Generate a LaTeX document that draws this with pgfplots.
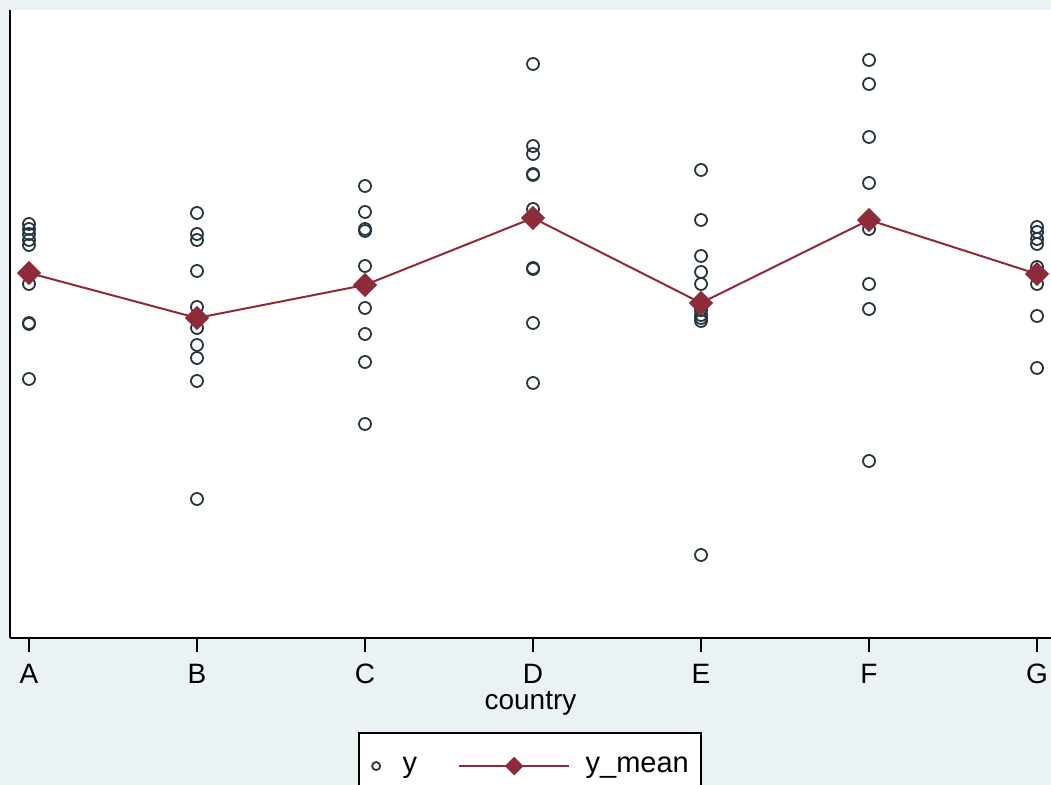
\documentclass[border=0pt]{standalone}
\usepackage{fontspec}
\setmainfont{Liberation Sans}
\usepackage{pgfplots}
\pgfplotsset{compat=1.18}
\definecolor{bgout}{HTML}{EAF2F3}
\definecolor{ptcol}{HTML}{26363F}
\definecolor{meancol}{HTML}{8E2B3A}

% legend samples: a small single marker, and a long line with its marker in the middle
\pgfplotsset{
  dot legend/.style={
    legend image code/.code={
      \path[draw=none, fill=none] (-4.5pt,0pt) rectangle (11.25pt,0.1pt);
      \path[##1, mark size=2pt] plot coordinates {(0pt,0pt)};
    }
  },
  longline legend/.style={
    legend image code/.code={
      \path[draw=none, fill=none] (0pt,0pt) rectangle (61.25pt,0.1pt);
      \draw[##1, mark=none] (0pt,0pt) -- (55pt,0pt);
      \path[##1, mark size=2.8pt] plot coordinates {(27.5pt,0pt)};
    }
  }
}

% individual observations per country
\pgfplotstableread{
x y
0 414
0 409
0 404
0 398
0 393
0 354
0 315
0 314
0 259
1 425
1 404
1 398
1 367
1 331
1 310
1 293
1 280
1 257
1 139
2 452
2 426
2 409
2 407
2 372
2 330
2 304
2 276
2 214
3 574
3 492
3 484
3 464
3 463
3 429
3 370
3 369
3 315
3 255
4 468
4 418
4 382
4 366
4 354
4 328
4 323
4 320
4 317
4 83
5 578
5 554
5 501
5 455
5 409
5 354
5 329
5 177
6 411
6 406
6 399
6 394
6 371
6 362
6 354
6 322
6 270
}\obs

% country means
\pgfplotstableread{
x y
0 365
1 320
2 353
3 420
4 335
5 418
6 364
}\means

\begin{document}
\begin{tikzpicture}
\useasboundingbox (0pt,0pt) rectangle (525.5pt,392.5pt);
\clip (0pt,0pt) rectangle (525.5pt,392.5pt);
\fill[bgout] (0pt,0pt) rectangle (525.5pt,392.5pt);
\begin{axis}[
  at={(5pt,73.5pt)}, anchor=south west,
  scale only axis, width=520.5pt, height=314pt,
  xmin=-0.113, xmax=6.083, ymin=0, ymax=628,
  axis x line*=bottom, axis y line*=left,
  axis line style={-, line width=0.75pt, black},
  axis background/.style={fill=white},
  xtick={0,...,6}, xticklabels={A,B,C,D,E,F,G},
  ytick=\empty,
  tick align=outside, major tick length=7pt,
  tick style={black, line width=0.6pt},
  xticklabel style={yshift=-2.5pt},
  font=\fontsize{14}{17}\selectfont,
  xlabel={country},
  xlabel style={yshift=3pt},
  legend columns=2,
  legend style={at={(0.4995,-0.1497)}, anchor=north,
    draw=black, line width=0.75pt, fill=white,
    inner xsep=4pt, inner ysep=10pt,
    font=\fontsize{14.5}{17}\selectfont,
    /tikz/every even column/.append style={column sep=18.5pt}},
]
\addplot[only marks, mark=o, mark size=3pt, ptcol, line width=0.9pt, dot legend] table {\obs};
\addlegendentry{y}
\addplot[meancol, line width=1pt, mark=square*, mark size=3.8pt,
  mark options={rotate=45, fill=meancol}, longline legend] table {\means};
\addlegendentry{y\_mean}
\end{axis}
\end{tikzpicture}
\end{document}
